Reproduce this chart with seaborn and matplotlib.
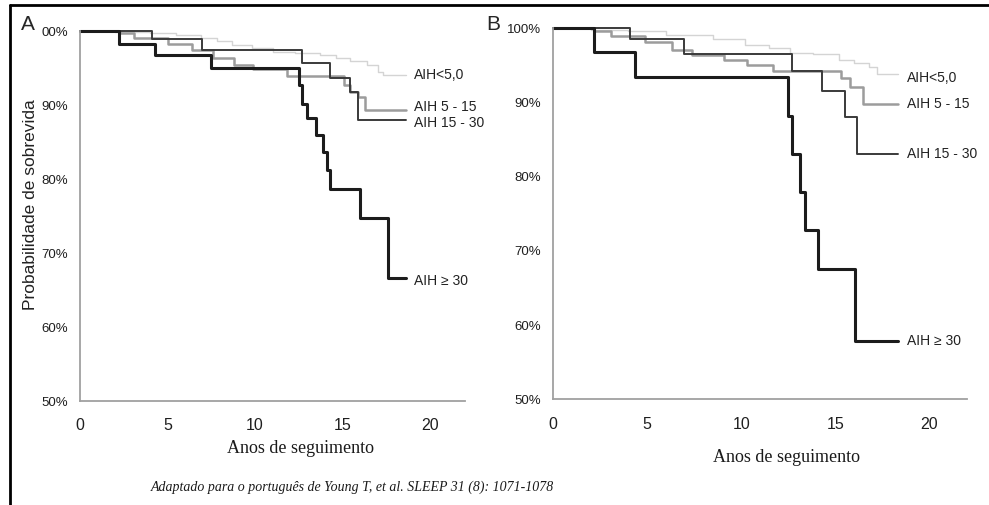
import matplotlib
matplotlib.use("Agg")
import matplotlib.pyplot as plt
import matplotlib.ticker as mticker
from matplotlib.lines import Line2D
import pandas as pd
import seaborn as sns

# ── Data: Kaplan-Meier style survival (%) by AIH group ───────────────────────
GROUPS = ["AIH<5,0", "AIH 5 - 15", "AIH 15 - 30", "AIH ≥ 30"]

# Panel A
a_lt5_t = [0, 2.0, 4.0, 5.5, 6.9, 7.8, 8.7, 9.8, 11.0, 12.3, 13.7, 14.6, 15.4, 16.4, 17.0, 17.3, 18.6]
a_lt5_s = [100, 99.9, 99.7, 99.4, 99.1, 98.7, 98.1, 97.7, 97.2, 97.0, 96.8, 96.4, 95.9, 95.4, 94.5, 94.1, 94.1]
a_5_15_t = [0, 2.3, 3.1, 5.0, 6.4, 7.6, 8.8, 9.9, 11.8, 15.1, 15.4, 15.9, 16.3, 18.6]
a_5_15_s = [100, 99.7, 99.1, 98.3, 97.4, 96.3, 95.4, 94.8, 93.9, 92.7, 91.8, 91.1, 89.3, 89.3]
a_15_30_t = [0, 4.1, 6.95, 12.7, 14.3, 15.4, 15.9, 18.6]
a_15_30_s = [100, 98.9, 97.5, 95.7, 93.7, 91.8, 88.0, 88.0]
a_30_t = [0, 2.2, 4.3, 7.5, 12.5, 12.7, 12.95, 13.5, 13.9, 14.1, 14.3, 16.0, 17.6, 18.6]
a_30_s = [100, 98.3, 96.8, 95.0, 92.7, 90.2, 88.2, 85.9, 83.6, 81.2, 78.7, 74.7, 66.6, 66.6]

# Panel B
b_lt5_t = [0, 2.0, 4.0, 6.0, 8.5, 10.2, 11.5, 12.6, 13.8, 15.2, 16.0, 16.8, 17.2, 18.35]
b_lt5_s = [100, 99.8, 99.6, 99.1, 98.6, 97.7, 97.4, 96.7, 96.5, 95.7, 95.3, 94.8, 93.9, 93.8]
b_5_15_t = [0, 2.2, 3.1, 4.9, 6.3, 7.4, 9.1, 10.3, 11.7, 15.3, 15.8, 16.5, 18.35]
b_5_15_s = [100, 99.6, 98.9, 98.1, 97.1, 96.4, 95.7, 95.1, 94.2, 93.3, 92.1, 89.8, 89.8]
b_15_30_t = [0, 4.1, 6.95, 12.7, 14.3, 15.5, 16.15, 18.35]
b_15_30_s = [100, 98.5, 96.5, 94.2, 91.6, 88.1, 83.1, 83.1]
b_30_t = [0, 2.2, 4.35, 12.5, 12.7, 13.1, 13.4, 14.1, 16.05, 18.35]
b_30_s = [100, 96.8, 93.4, 88.2, 83.1, 77.9, 72.8, 67.5, 57.9, 57.9]

Y_TICKS = [50, 60, 70, 80, 90, 100]
X_TICKS = [0, 5, 10, 15, 20]

COLORS = {"AIH<5,0": "#d4d4d4", "AIH 5 - 15": "#9c9c9c",
          "AIH 15 - 30": "#3a3a3a", "AIH ≥ 30": "#1c1c1c"}
WIDTHS = {"AIH<5,0": 1.0, "AIH 5 - 15": 1.8, "AIH 15 - 30": 1.4, "AIH ≥ 30": 2.2}


def _long(series):
    rows = []
    for grp, (t, s) in zip(GROUPS, series):
        rows += [{"group": grp, "anos": ti, "surv": si} for ti, si in zip(t, s)]
    return pd.DataFrame(rows)


df_a = _long([(a_lt5_t, a_lt5_s), (a_5_15_t, a_5_15_s), (a_15_30_t, a_15_30_s), (a_30_t, a_30_s)])
df_b = _long([(b_lt5_t, b_lt5_s), (b_5_15_t, b_5_15_s), (b_15_30_t, b_15_30_s), (b_30_t, b_30_s)])

sns.set_style("white")
plt.rcParams["font.family"] = ["Liberation Sans", "DejaVu Sans"]

SPINE = "#a0a0a0"

fig = plt.figure(figsize=(9.89, 5.05), dpi=100)
ax_a = fig.add_axes([80 / 989, 104 / 505, 385 / 989, 370 / 505])
ax_b = fig.add_axes([553 / 989, 105.7 / 505, 414 / 989, 371 / 505])


def draw_panel(ax, df, first_label, label_dx, label_dy, xlab_xy):
    sns.lineplot(data=df, x="anos", y="surv", hue="group", size="group",
                 palette=COLORS, sizes=WIDTHS, hue_order=GROUPS,
                 estimator=None, sort=False, drawstyle="steps-post",
                 legend=False, ax=ax, clip_on=False)
    ax.set_xlim(0, 22)
    ax.set_ylim(50, 100)
    ax.set_xticks(X_TICKS)
    ax.set_yticks(Y_TICKS)
    ax.yaxis.set_major_formatter(mticker.FuncFormatter(
        lambda v, p: first_label if v == 100 else f"{v:.0f}%"))
    for side in ("top", "right"):
        ax.spines[side].set_visible(False)
    for side in ("left", "bottom"):
        ax.spines[side].set_color(SPINE)
        ax.spines[side].set_linewidth(1.3)
    ax.tick_params(axis="both", direction="out", length=3, width=1, color=SPINE,
                   labelcolor="#1f1f1f")
    ax.tick_params(axis="y", pad=5.5, labelsize=9.5)
    ax.tick_params(axis="x", pad=9.5, labelsize=11.5)

    # curve labels at the end of each curve
    for grp in GROUPS:
        sub = df[df["group"] == grp]
        ax.text(sub["anos"].iloc[-1] + label_dx,
                sub["surv"].iloc[-1] + label_dy.get(grp, 0), grp,
                ha="left", va="center", fontsize=10, color="#222222",
                family=["Liberation Sans", "DejaVu Sans"])

    ax.set_xlabel("Anos de seguimento", fontsize=13, family="Liberation Serif",
                  color="#1a1a1a")
    ax.xaxis.set_label_coords(*xlab_xy)
    ax.set_ylabel("")


draw_panel(ax_a, df_a, "00%", 0.5,
           {"AIH 5 - 15": 0.45, "AIH 15 - 30": -0.45, "AIH ≥ 30": -0.4},
           (0.574, -0.105))
draw_panel(ax_b, df_b, "100%", 0.45, {"AIH<5,0": -0.5}, (0.563, -0.135))

ax_a.set_ylabel("Probabilidade de sobrevida", fontsize=12.5, color="#222222")
ax_a.yaxis.set_label_coords(-0.109, 0.532)

fig.text(28 / 989, 1 - 24 / 505, "A", fontsize=15, ha="center", va="center")
fig.text(493 / 989, 1 - 24 / 505, "B", fontsize=15, ha="center", va="center")

fig.text(352 / 989, 1 - 487 / 505,
         "Adaptado para o português de Young T, et al. SLEEP 31 (8): 1071-1078",
         fontsize=10, style="italic", family="Liberation Serif",
         ha="center", va="center", color="#1a1a1a")

# frame lines of the original figure (top and left)
fig.add_artist(Line2D([9.5 / 989, 9.5 / 989], [0, 1 - 5 / 505], color="black",
                      lw=2, transform=fig.transFigure))
fig.add_artist(Line2D([9.5 / 989, 1], [1 - 5 / 505, 1 - 5 / 505], color="black",
                      lw=2, transform=fig.transFigure))

fig.savefig("out.png", dpi=100)
plt.close(fig)
